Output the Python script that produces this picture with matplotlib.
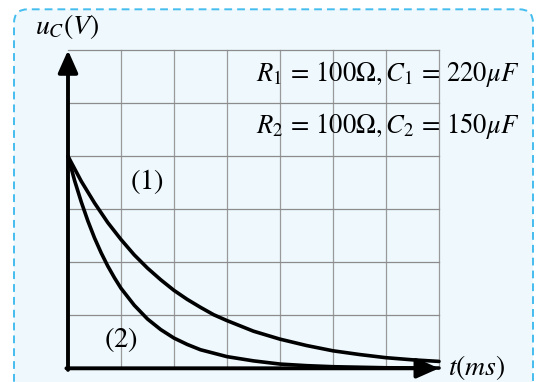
import matplotlib
matplotlib.use("Agg")
import matplotlib.pyplot as plt
from matplotlib.patches import FancyBboxPatch

plt.rcParams['mathtext.fontset'] = 'stix'
plt.rcParams['font.family'] = ['STIXGeneral', 'DejaVu Serif']

# time in grid units, voltage in grid units
t1 = [0, 0.25, 0.5, 0.75, 1, 1.25, 1.5, 1.75, 2, 2.25, 2.5, 2.75, 3, 3.5, 4, 4.5, 5, 5.5, 6, 6.5, 7]
u1 = [4.00, 3.53, 3.12, 2.75, 2.43, 2.14, 1.89, 1.67, 1.47, 1.30, 1.15, 1.01, 0.90, 0.70, 0.55, 0.43, 0.33, 0.26, 0.20, 0.16, 0.13]
t2 = [0, 0.125, 0.25, 0.375, 0.5, 0.625, 0.75, 0.875, 1, 1.25, 1.5, 1.75, 2, 2.25, 2.5, 3, 3.5, 4, 4.5, 5, 6, 7]
u2 = [4.00, 3.54, 3.14, 2.78, 2.46, 2.18, 1.93, 1.71, 1.51, 1.19, 0.93, 0.73, 0.57, 0.45, 0.35, 0.22, 0.14, 0.08, 0.05, 0.03, 0.01, 0.005]
grid_x = [1, 2, 3, 4, 5, 6, 7]
grid_y = [1, 2, 3, 4, 5, 6]
label_1 = r'$R_1\,=\,100\Omega, C_1\,=\,220\mu F$'
label_2 = r'$R_2\,=\,100\Omega, C_2\,=\,150\mu F$'

W, H = 541, 382
fig = plt.figure(figsize=(W / 100, H / 100), dpi=100)
ax = fig.add_axes([0, 0, 1, 1])
unit = 53.0
x0, y0 = 68.0, 368.3
ax.set_xlim(-x0 / unit, (W - x0) / unit)
ax.set_ylim((y0 - H) / unit, y0 / unit)
ax.axis('off')

def px(x):
    return (x - x0) / unit

def py(y):
    return (y0 - y) / unit

# framed box
box = FancyBboxPatch((px(14), py(420)), px(533) - px(14), py(9.3) - py(420),
                     boxstyle="round,pad=0,rounding_size=0.26",
                     facecolor='#eef8fd', edgecolor='#45bdee', lw=1.4,
                     linestyle=(0, (4, 2.6)), zorder=0)
ax.add_patch(box)

# grid
for gx in grid_x:
    ax.plot([gx, gx], [0, 6], color='#9a9a9a', lw=0.9, zorder=1)
for gy in grid_y:
    ax.plot([0, 7], [gy, gy], color='#8c8c8c', lw=0.9, zorder=1)

# curves
ax.plot(t1, u1, color='black', lw=2.6, solid_joinstyle='round', solid_capstyle='round', zorder=3)
ax.plot(t2, u2, color='black', lw=2.6, solid_joinstyle='round', solid_capstyle='round', zorder=3)

# axes with arrows
arr = dict(arrowstyle='-|>,head_length=0.9,head_width=0.4', lw=2.8, color='black',
           shrinkA=0, shrinkB=0, mutation_scale=15)
ax.annotate('', xy=(0, 6), xytext=(0, -0.03), arrowprops=arr, zorder=4)
ax.annotate('', xy=(7, 0), xytext=(-0.03, 0), arrowprops=arr, zorder=4)

fs = 19.2
ax.text(px(35), py(34), r'$u_C(V)$', fontsize=20, ha='left', va='baseline', zorder=5)
ax.text(px(448), py(375), r'$t(ms)$', fontsize=20, ha='left', va='baseline', zorder=5)
ax.text(px(256), py(81), label_1, fontsize=fs, ha='left', va='baseline', zorder=5)
ax.text(px(256), py(132.7), label_2, fontsize=fs, ha='left', va='baseline', zorder=5)
ax.text(px(147), py(181.5), r'$(1)$', fontsize=20.5, ha='center', va='center', zorder=5)
ax.text(px(120.5), py(340), r'$(2)$', fontsize=20.5, ha='center', va='center', zorder=5)

fig.savefig('out.png', dpi=100)
